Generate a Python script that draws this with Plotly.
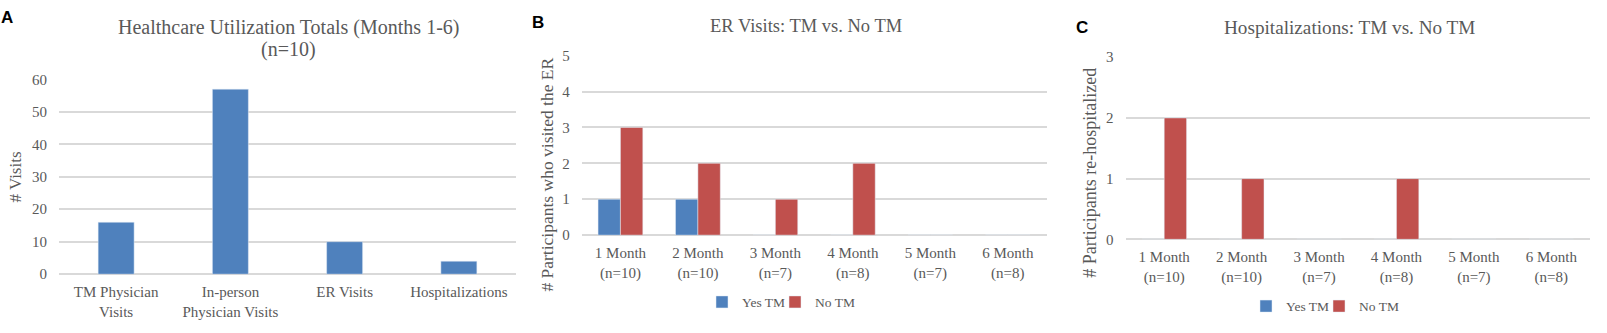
import plotly.graph_objects as go

W, H = 1607, 333

# ---- data ----
util_categories = ["TM Physician<br>Visits", "In-person<br>Physician Visits", "ER Visits", "Hospitalizations"]
util_values = [16, 57, 10, 4]

month_categories = ["1 Month<br>(n=10)", "2 Month<br>(n=10)", "3 Month<br>(n=7)",
                    "4 Month<br>(n=8)", "5 Month<br>(n=7)", "6 Month<br>(n=8)"]
er_yes_tm = [1, 1, 0, 0, 0, 0]
er_no_tm = [3, 2, 1, 2, 0, 0]
hosp_yes_tm = [0, 0, 0, 0, 0, 0]
hosp_no_tm = [2, 1, 0, 1, 0, 0]

BLUE = "#4F81BD"
RED = "#C0504D"
TXT = "#595959"
GRID = "#D9D9D9"
FONT = "Liberation Serif"


def px_x(x):
    return x / W


def px_y(y):
    return 1 - y / H


fig = go.Figure()

# Panel A
fig.add_trace(go.Bar(x=util_categories, y=util_values, marker_color=BLUE,
                     width=0.315, offset=-0.1575, showlegend=False,
                     xaxis="x", yaxis="y"))
# Panel B
fig.add_trace(go.Bar(x=month_categories, y=er_yes_tm, marker_color=BLUE, name="Yes TM",
                     width=0.289, offset=-0.289, xaxis="x2", yaxis="y2", legend="legend"))
fig.add_trace(go.Bar(x=month_categories, y=er_no_tm, marker_color=RED, name="No TM",
                     width=0.289, offset=0, xaxis="x2", yaxis="y2", legend="legend2"))
# Panel C
fig.add_trace(go.Bar(x=month_categories, y=hosp_yes_tm, marker_color=BLUE, name="Yes TM",
                     width=0.289, offset=-0.289, xaxis="x3", yaxis="y3", legend="legend3"))
fig.add_trace(go.Bar(x=month_categories, y=hosp_no_tm, marker_color=RED, name="No TM",
                     width=0.289, offset=0, xaxis="x3", yaxis="y3", legend="legend4"))

tickfont = dict(family=FONT, size=15, color=TXT)

def xax(x0, x1, anchor):
    return dict(domain=[px_x(x0), px_x(x1)], anchor=anchor, showgrid=False,
                showline=False, zeroline=False, ticks="", tickfont=tickfont,
                ticklabelstandoff=7, fixedrange=True)

def yax(y_top, y_bot, anchor, rng, dtick):
    return dict(domain=[px_y(y_bot), px_y(y_top)], anchor=anchor, range=rng,
                dtick=dtick, showgrid=True, gridcolor=GRID, gridwidth=1.5,
                zeroline=True, zerolinecolor=GRID, zerolinewidth=1.5,
                showline=False, ticks="", tickfont=tickfont, ticklabelstandoff=11,
                fixedrange=True)

def leg(text_start_x, y):
    return dict(orientation="h", x=px_x(text_start_x - 40), xanchor="left",
                y=px_y(y), yanchor="middle",
                font=dict(family=FONT, size=13.5, color=TXT), bgcolor="rgba(0,0,0,0)",
                itemclick=False, itemdoubleclick=False)

layout = dict(
    width=W, height=H, margin=dict(l=0, r=0, t=0, b=0),
    paper_bgcolor="white", plot_bgcolor="white",
    barmode="overlay",
    font=dict(family=FONT, color=TXT),
    xaxis=xax(59, 516, "y"),
    yaxis=yax(75, 279.6, "x", [0, 60], 10),
    xaxis2=xax(581.7, 1046.5, "y2"),
    yaxis2=yax(50, 238.6, "x2", [0, 5], 1),
    xaxis3=xax(1125.5, 1590, "y3"),
    yaxis3=yax(51.7, 243, "x3", [0, 3], 1),
    legend=leg(742, 309),
    legend2=leg(815, 309),
    legend3=leg(1286, 313.4),
    legend4=leg(1359, 313.4),
)

annotations = []
def ann(text, x, y, size, rot=0, bold_sans=False, color=TXT):
    f = dict(family="Liberation Sans" if bold_sans else FONT, size=size,
             color="black" if bold_sans else color)
    annotations.append(dict(text=text, x=px_x(x), y=px_y(y), xref="paper", yref="paper",
                            showarrow=False, textangle=rot, font=f,
                            xanchor="center", yanchor="middle"))

# titles
ann("Healthcare Utilization Totals (Months 1-6)", 288.5, 20.5, 20)
ann("(n=10)", 288.5, 44, 20)
ann("ER Visits: TM vs. No TM", 805.5, 18.5, 18.5)
ann("Hospitalizations: TM vs. No TM", 1349, 20.5, 19.2)
# y-axis titles
ann("# Visits", 15.5, 177.6, 17, rot=-90)
ann("# Participants who visited the ER", 547, 175, 17.5, rot=-90)
ann("# Participants re-hospitalized", 1090, 173, 18, rot=-90)
# panel letters
ann("<b>A</b>", 7, 10, 17, bold_sans=True)
ann("<b>B</b>", 538, 15.5, 17, bold_sans=True)
ann("<b>C</b>", 1082, 21, 17, bold_sans=True)

layout["annotations"] = annotations
fig.update_layout(**layout)

fig.write_html("out.html", config={"displayModeBar": False})
